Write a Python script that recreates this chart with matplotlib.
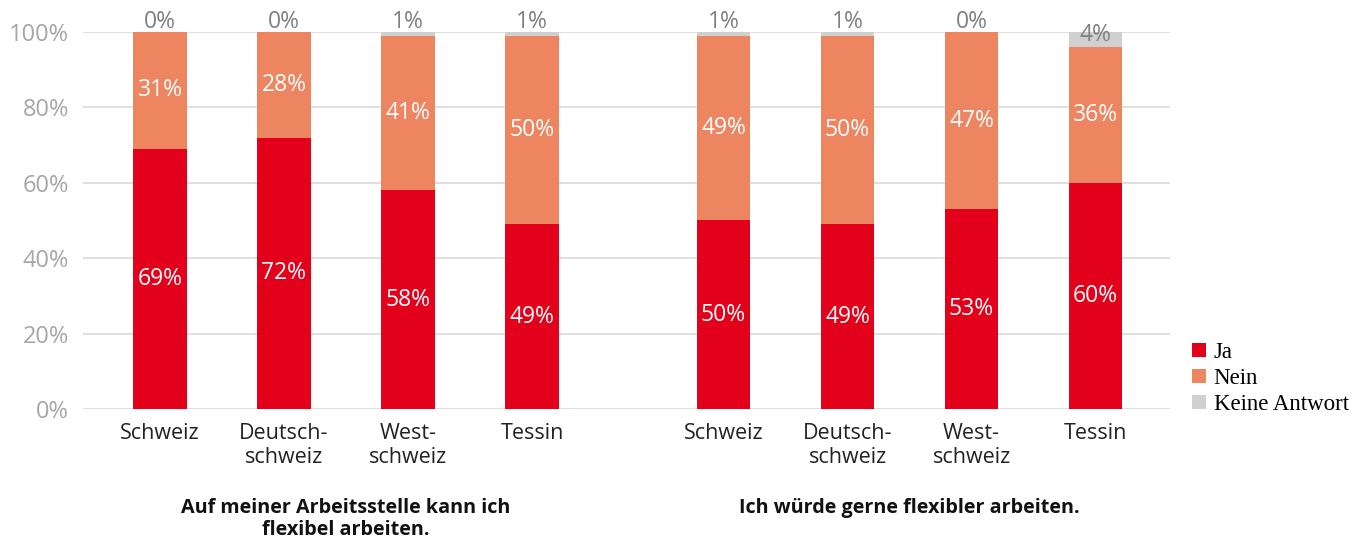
import numpy as np
import matplotlib.pyplot as plt

# data (percent)
regions = ["Schweiz", "Deutsch-\nschweiz", "West-\nschweiz", "Tessin"]
titles = ["Auf meiner Arbeitsstelle kann ich\nflexibel arbeiten.",
          "Ich würde gerne flexibler arbeiten."]
ja = [69, 72, 58, 49, 50, 49, 53, 60]
nein = [31, 28, 41, 50, 49, 50, 47, 36]
keine = [0, 0, 1, 1, 1, 1, 0, 4]
series_names = ["Ja", "Nein", "Keine Antwort"]

c_ja = "#e2001a"
c_nein = "#ee8561"
c_keine = "#d0d0d0"

plt.rcParams['font.family'] = ['Open Sans', 'DejaVu Sans']

fig = plt.figure(figsize=(13.62, 5.41), dpi=100)
ax = fig.add_axes([0.061, 0.244, 0.798, 0.697])

x = np.array([0, 1, 2, 3, 4.545, 5.545, 6.545, 7.545])
w = 0.43
ja = np.array(ja)
nein = np.array(nein)
keine = np.array(keine)

b1 = ax.bar(x, ja, w, color=c_ja, label=series_names[0], zorder=3)
b2 = ax.bar(x, nein, w, bottom=ja, color=c_nein, label=series_names[1], zorder=3)
b3 = ax.bar(x, keine, w, bottom=ja + nein, color=c_keine, label=series_names[2], zorder=3)

fs = 16.5
for xi, a, n, k in zip(x, ja, nein, keine):
    ax.text(xi, a / 2, f"{a}%", ha='center', va='center', color='white', fontsize=fs, zorder=4)
    ax.text(xi, a + n / 2, f"{n}%", ha='center', va='center', color='white', fontsize=fs, zorder=4)
    yk = 102.6 if k < 2 else a + n + k / 2 + 1.3
    ax.text(xi, yk, f"{k}%", ha='center', va='center', color='#7f7f7f', fontsize=fs, zorder=4,
            clip_on=False)

ax.set_ylim(0, 100)
ax.set_xlim(-0.62, 8.145)
ax.set_yticks(np.arange(0, 101, 20))
ax.set_yticklabels([f"{v}%" for v in range(0, 101, 20)], color='#a6a6a6', fontsize=17)
ax.set_xticks(x)
ax.set_xticklabels(regions * 2, fontsize=15.5, color='#222222', linespacing=1.2)
ax.tick_params(length=0)
ax.tick_params(axis='x', pad=10)
ax.tick_params(axis='y', pad=10)
ax.grid(axis='y', color='#d9d9d9', linewidth=1.2, zorder=0)
for s in ax.spines.values():
    s.set_visible(False)

# group titles
for grp, t in enumerate(titles):
    cx = x[grp * 4:(grp + 1) * 4].mean()
    ax.text(cx, -0.235, t, transform=ax.get_xaxis_transform(), ha='center', va='top',
            fontsize=14.2, fontweight='bold', color='#111111', linespacing=1.15)

fig.legend(handles=[b1, b2, b3], labels=series_names, loc='center left',
           bbox_to_anchor=(0.875, 0.30), frameon=False, handlelength=0.6, handleheight=0.6,
           handletextpad=0.35, labelspacing=0.22, borderpad=0, borderaxespad=0,
           prop={'family': 'Liberation Serif', 'size': 16.5})

fig.savefig("out.png", dpi=100)
